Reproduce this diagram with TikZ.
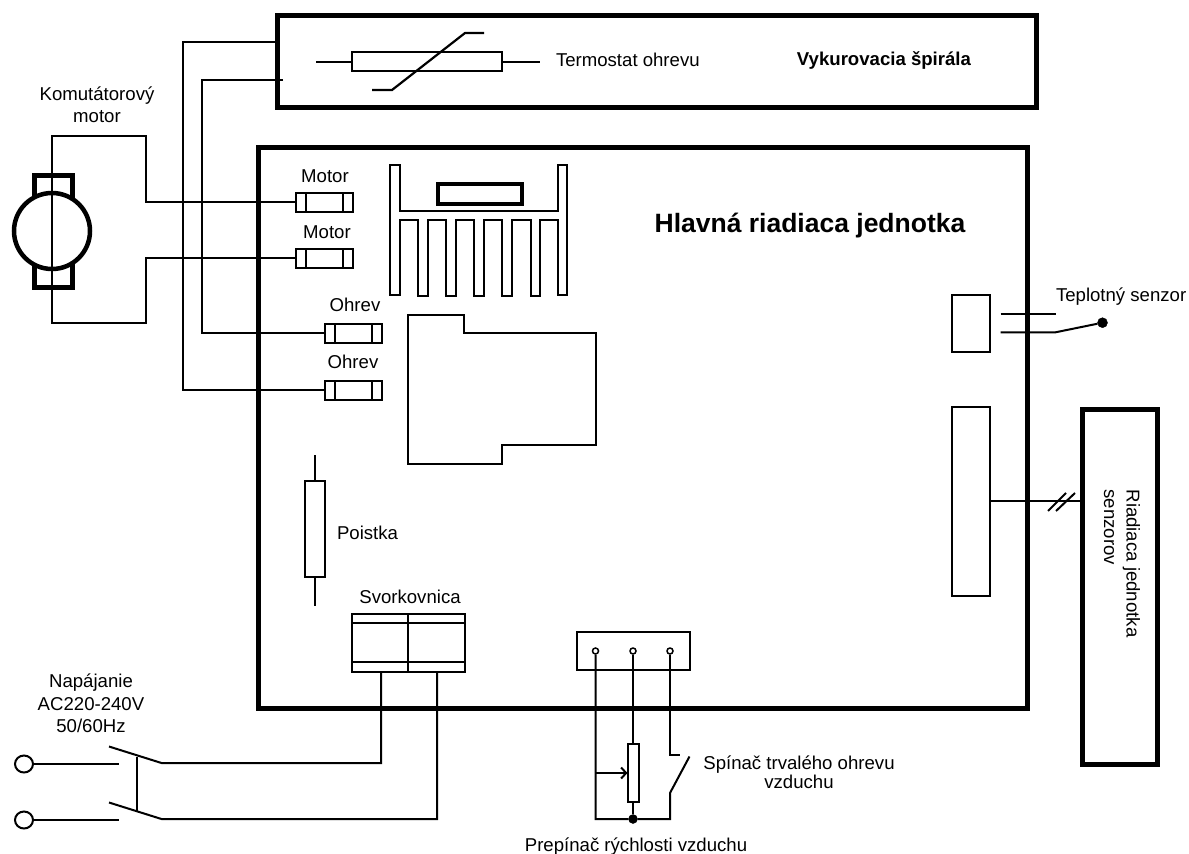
\documentclass[tikz,border=0pt]{standalone}
\usepackage{fontspec}
\setmainfont{Liberation Sans}
\usetikzlibrary{shapes.geometric}
\usetikzlibrary{positioning}
\usetikzlibrary{calc}
\usetikzlibrary{arrows.meta}
\tikzstyle{wire}=[line width=2pt]
\tikzstyle{heavy}=[draw,rectangle,line width=5pt,inner sep=0,outer sep=0]
\tikzstyle{part}=[draw,rectangle,line width=2pt,inner sep=0,outer sep=0]
\tikzstyle{fuse}=[part,minimum width=57pt,minimum height=19pt]
\tikzstyle{lbl}=[inner sep=0,outer sep=0,align=center,font=\fontsize{18.6}{22.5}\selectfont]
\tikzstyle{pin}=[draw,circle,fill=white,line width=1.5pt,inner sep=0,minimum size=6pt]
\tikzstyle{blob}=[draw,circle,fill=black,inner sep=0]
\tikzstyle{inlet}=[draw,ellipse,line width=2pt,inner sep=0,minimum width=18pt,minimum height=17pt]

\begin{document}
\begin{tikzpicture}[x=1pt,y=-1pt]
	\useasboundingbox (0,0) rectangle (1189,854);
	% boxes
	\node[heavy,minimum width=759pt,minimum height=92pt] (heater) at (657,61.5) {};
	\node[heavy,minimum width=769.5pt,minimum height=561.5pt] (board) at (642.75,427.75) {};
	\node[heavy,minimum width=74.5pt,minimum height=355pt] (sensors) at (1120,587) {};
	\node[lbl,rotate=-90,align=left] (sensorslbl) at (1122,563.5) {Riadiaca jednotka\\senzorov};
	\node[lbl,font=\fontsize{18.6}{22}\bfseries] (heaterlbl) at (884,60) {Vykurovacia špirála};
	\node[lbl,font=\fontsize{26.5}{30}\bfseries] (boardlbl) at (810,226) {Hlavná riadiaca jednotka};

	% thermostat
	\node[part,minimum width=150pt,minimum height=19pt] (thermo) at (427,61.5) {};
	\node[lbl,anchor=west] (thermolbl) at (556,60) {Termostat ohrevu};
	\coordinate (thermoL) at (316,61.5);
	\coordinate (thermoR) at (540,61.5);
	\draw[wire] (thermoL) -- (thermo.west);
	\draw[wire] (thermo.east) -- (thermoR);
	\draw[line width=2.2pt] (372,90) -- (392,90) -- (465,33) -- (484,33);

	% motor
	\node[lbl] (motorlbl) at (97,104.5) {Komutátorový\\motor};
	\node[draw,line width=5pt,minimum width=38pt,minimum height=30pt,outer sep=0] (brushA) at (53,190) {};
	\node[draw,line width=5pt,minimum width=38pt,minimum height=30pt,outer sep=0] (brushB) at (53,272) {};
	\node[draw,circle,fill=white,line width=4.5pt,minimum size=76pt,inner sep=0] (motor) at (52,231) {};
	\coordinate (bendA) at (146,136);
	\coordinate (bendB) at (146,323);

	% fuses
	\foreach \n/\x/\y in {fuseA/324.5/202,fuseB/324.5/258,fuseC/353/333,fuseD/353/390} {
		\node[fuse] (\n) at (\x,\y) {};
		\draw[wire] ($(\n.north west)+(10,0)$) -- ($(\n.south west)+(10,0)$);
		\draw[wire] ($(\n.north east)+(-10,0)$) -- ($(\n.south east)+(-10,0)$);
	}
	\node[lbl] (fuseAlbl) at (325,176) {Motor};
	\node[lbl] (fuseBlbl) at (327,232) {Motor};
	\node[lbl] (fuseClbl) at (355,305) {Ohrev};
	\node[lbl] (fuseDlbl) at (353,362) {Ohrev};

	\draw[wire] (fuseA.west) -- (fuseA.west -| bendA) -- (bendA) -- (bendA -| motor) -- (bendB -| motor) -- (bendB) -- (bendB |- fuseB) -- (fuseB.west);

	\coordinate (htrA) at (277,42);
	\coordinate (htrB) at (283,80);
	\coordinate (wireC) at (202,333);
	\coordinate (wireD) at (183,390);
	\draw[wire] (htrA) -| (wireD) -- (fuseD.west);
	\draw[wire] (htrB) -| (wireC) -- (fuseC.west);

	% heat sink and chip
	\draw[wire] (390,165) -- (400,165) -- (400,211) -- (558,211) -- (558,165) -- (567,165) -- (567,295) -- (558,295) -- (558,220)
		-- (539.5,220) -- (539.5,296) -- (530.5,296) -- (530.5,220)
		-- (511.5,220) -- (511.5,296) -- (502,296) -- (502,220)
		-- (483.5,220) -- (483.5,296) -- (474,296) -- (474,220)
		-- (455.5,220) -- (455.5,296) -- (446,296) -- (446,220)
		-- (427.5,220) -- (427.5,296) -- (418,296) -- (418,220)
		-- (400,220) -- (400,295) -- (390,295) -- cycle;
	\node[draw,line width=4.5pt,minimum width=84pt,minimum height=20pt,outer sep=0] (chip) at (480,194) {};
	\draw[wire] (408,315) -- (464,315) -- (464,332.5) -- (596,332.5) -- (596,445) -- (502,445) -- (502,464) -- (408,464) -- cycle;

	% fuse on board
	\coordinate (mainT) at (315,455);
	\coordinate (mainB) at (315,606);
	\node[part,minimum width=20pt,minimum height=96pt] (mainfuse) at (315,529) {};
	\draw[wire] (mainT) -- (mainfuse.north);
	\draw[wire] (mainfuse.south) -- (mainB);
	\node[lbl,anchor=west] (mainfuselbl) at (337,533) {Poistka};

	% terminal block
	\node[lbl] (termlbl) at (410,597) {Svorkovnica};
	\node[part,minimum width=113pt,minimum height=58pt] (term) at (408,643) {};
	\draw[wire] (term.north) -- (term.south);
	\draw[wire] ($(term.north west)+(0,9)$) -- ($(term.north east)+(0,9)$);
	\draw[wire] ($(term.south west)+(0,-10)$) -- ($(term.south east)+(0,-10)$);

	% mains switch
	\node[lbl] (mainslbl) at (91,703.5) {Napájanie\\AC220-240V\\50/60Hz};
	\node[inlet] (inA) at (24,764) {};
	\node[inlet] (inB) at (24,820) {};
	\coordinate (swA) at (118.5,764);
	\coordinate (swB) at (118.5,820);
	\draw[wire] (inA) -- (swA);
	\draw[wire] (inB) -- (swB);
	\coordinate (contA) at (161.5,763);
	\coordinate (contB) at (161.5,819);
	\draw[wire] (109,746.5) -- (contA) -| (381,671.5);
	\draw[wire] (109,802.5) -- (contB) -| (437,671.5);
	\draw[line width=2.5pt] (137,756.5) -- (137,811.5);

	% speed selector
	\node[part,minimum width=113pt,minimum height=38pt] (plug) at (633,651) {};
	\node[pin] (pinA) at (595.5,651) {};
	\node[pin] (pinB) at (633,651) {};
	\node[pin] (pinC) at (670,651) {};
	\node[part,fill=white,minimum width=11pt,minimum height=58pt] (pot) at (633,773) {};
	\node[blob,minimum size=9pt] (star) at (633,819) {};
	\draw[wire] (pinA.south) -- (pinA |- star) -- (star) -- (star -| pinC) -- (670,793) -- (689.5,756.5);
	\draw[wire] (pinB.south) -- (pot.north);
	\draw[wire] (pot.south) -- (star);
	\draw[wire] (pinC.south) -- (670,755) -- (679.5,755);
	\draw[wire,-{Straight Barb[length=5pt,width=11pt]}] (pinA |- pot) -- (pot.west);
	\node[lbl,font=\fontsize{18.6}{19}\selectfont] (switchlbl) at (799,772.5) {Spínač trvalého ohrevu\\vzduchu};
	\node[lbl] (selectorlbl) at (636,847) {Prepínač rýchlosti vzduchu};

	% connectors on the right
	\node[part,minimum width=38pt,minimum height=57pt] (tempconn) at (971,323) {};
	\node[part,minimum width=38pt,minimum height=189pt] (sigconn) at (971,501) {};
	\node[blob,minimum size=10pt] (tempdot) at (1102.5,322.7) {};
	\node[lbl,anchor=west] (templbl) at (1056,297) {Teplotný senzor};
	\draw[wire] (1000.5,313.7) -- (1055.5,313.7);
	\draw[wire] (1000.5,332.3) -- (1055.5,332.3) -- (tempdot);
	\draw[wire] (sigconn.east) -- (sensors.west |- sigconn);
	\draw[wire] (1048,511) -- (1066,493);
	\draw[wire] (1056,511) -- (1075,493);
\end{tikzpicture}
\end{document}
